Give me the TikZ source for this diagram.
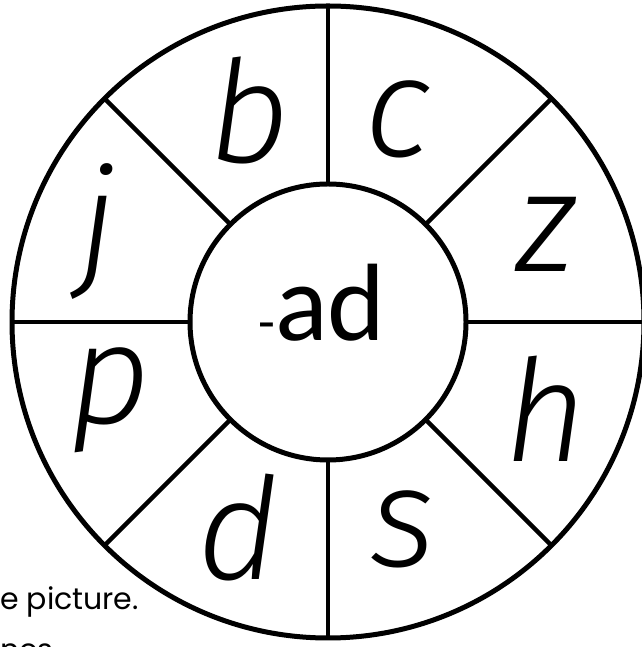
\documentclass[tikz,border=0pt]{standalone}
\usepackage{fontspec}
\usepackage{tikz}
\newfontfamily\handfont{Fira Sans Light Italic}
\newfontfamily\rimefont{Carlito}
\newfontfamily\notefont{Poppins}

\begin{document}
\begin{tikzpicture}[
  x=1pt, y=1pt,
  wheel/.style={circle,draw,line width=5pt,inner sep=0pt,outer sep=0pt,minimum size=632pt},
  hub/.style={circle,draw,line width=5pt,inner sep=0pt,outer sep=0pt,minimum size=276pt},
  spoke/.style={line width=4.5pt},
  letter/.style={font=\handfont\fontsize{142}{142}\selectfont,inner sep=0pt},
  rime/.style={font=\rimefont\fontsize{110}{110}\selectfont,inner sep=0pt},
  note/.style={font=\notefont\fontsize{30}{30}\selectfont,inner sep=0pt}
]
\useasboundingbox (0,0) rectangle (641,647);
\node[wheel] (wheel) at (328,325) {};
\node[hub] (hub) at (328,325) {};
\foreach \a in {0,45,...,315}
  \draw[spoke] (hub.\a) -- (wheel.\a);

% onset letters round the wheel
\node[letter] (b) at (249,537) {b};
\node[letter] (c) at (398,528) {c};
\node[letter] (z) at (546,413) {z};
\node[letter] (h) at (546,238) {h};
\node[letter] (s) at (403,118) {s};
\node[letter] (d) at (239,119) {d};
\node[letter] (p) at (110,247) {p};
\node[letter] (j) at (98,415) {j};

\node[rime] (ad) at (322,344) {{\fontsize{55}{55}\selectfont-}ad};

\node[note, anchor=west] (caption) at (0,45) {e picture.};
\node[note, anchor=base west] (more) at (0,-13) {nes};
\end{tikzpicture}
\end{document}
